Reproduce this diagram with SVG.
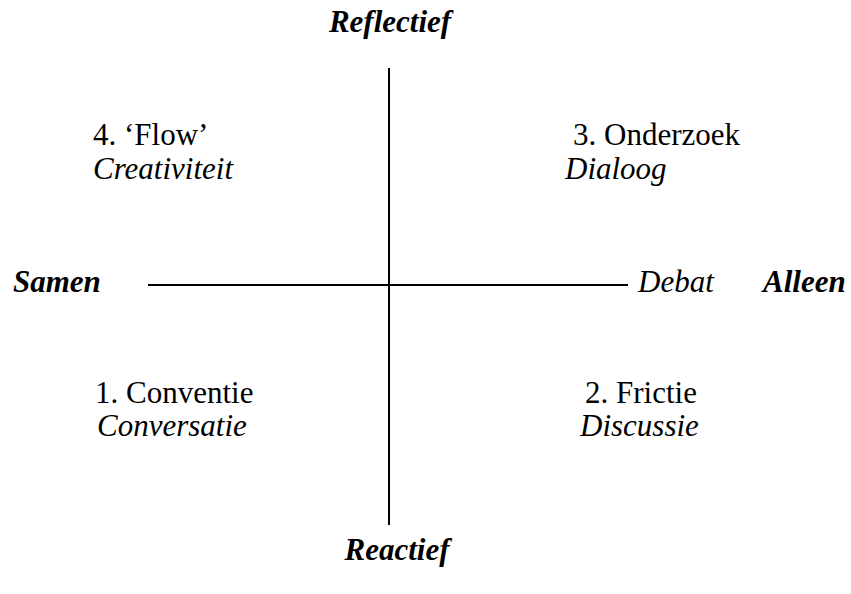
<svg xmlns="http://www.w3.org/2000/svg" width="851" height="594" viewBox="0 0 851 594">
<style>
text{font-family:'Liberation Serif', 'Times New Roman', Times, serif;font-size:31px;fill:#000}
.axis{font-weight:bold;font-style:italic}
.it{font-style:italic}
line{stroke:#000;stroke-width:2}
</style>
<rect width="851" height="594" fill="#fff"/>
<g id="connectors">
<line x1="389" y1="68" x2="389" y2="525"/>
<line x1="148" y1="285" x2="628" y2="285"/>
</g>
<g id="reflectief"><text class="axis" x="390" y="32" text-anchor="middle">Reflectief</text></g>
<g id="reactief"><text class="axis" x="397" y="560" text-anchor="middle">Reactief</text></g>
<g id="samen"><text class="axis" x="13" y="292">Samen</text></g>
<g id="alleen"><text class="axis" x="763" y="292">Alleen</text></g>
<g id="debat"><text class="it" x="638" y="292">Debat</text></g>
<g id="q4"><text x="93" y="145">4. ‘Flow’</text><text class="it" x="93" y="179">Creativiteit</text></g>
<g id="q3"><text x="573" y="145">3. Onderzoek</text><text class="it" x="565" y="179">Dialoog</text></g>
<g id="q1"><text x="95" y="403">1. Conventie</text><text class="it" x="97" y="436">Conversatie</text></g>
<g id="q2"><text x="585" y="403">2. Frictie</text><text class="it" x="580" y="436">Discussie</text></g>
</svg>
